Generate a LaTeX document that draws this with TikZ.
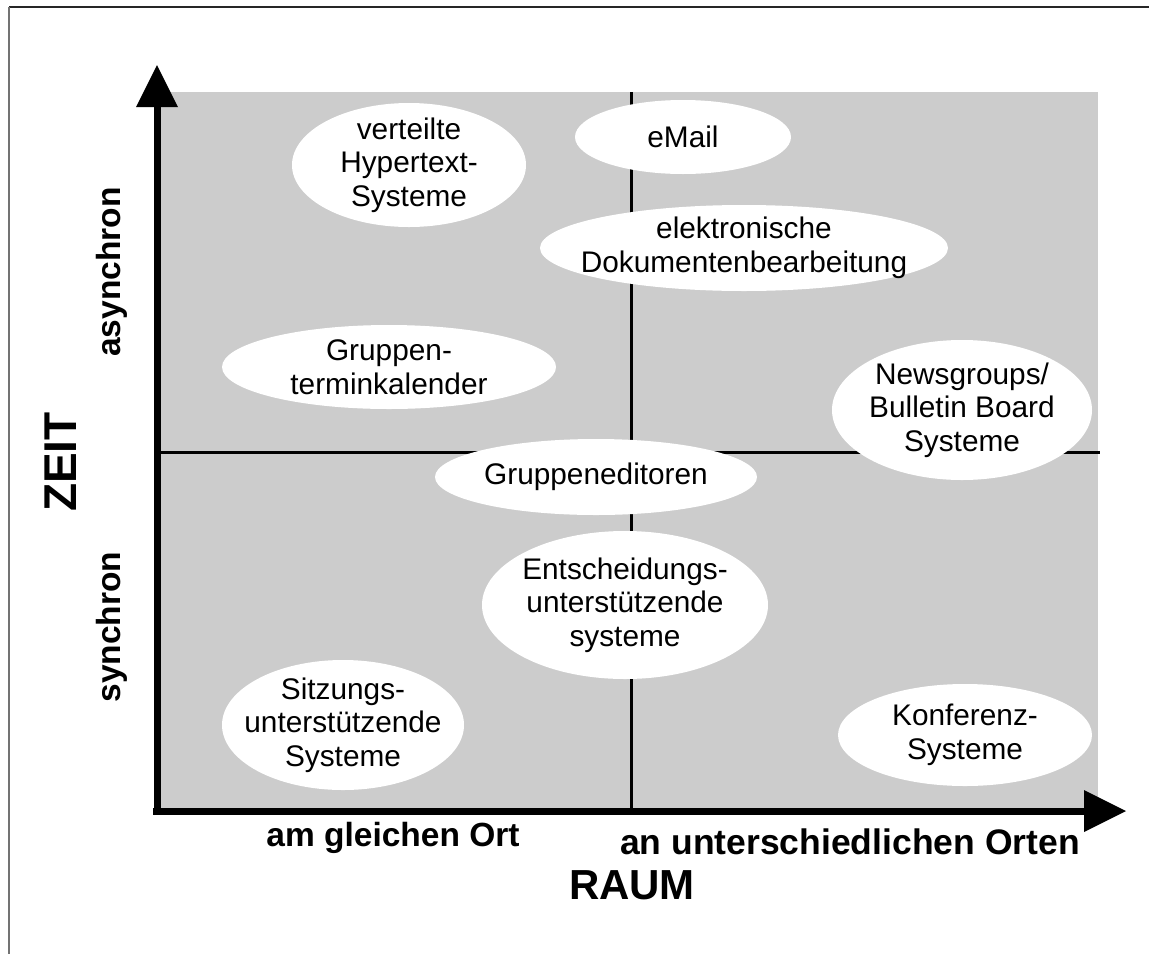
\documentclass[tikz,border=0pt]{standalone}
\usepackage{fontspec}
\setmainfont{Liberation Sans}
\begin{document}
\begin{tikzpicture}[x=1pt,y=-1pt,
  bub/.style={fill=white},
  lbl/.style={align=center,inner sep=0pt,font=\fontsize{29.8}{33.5}\selectfont},
  axlbl/.style={inner sep=0pt,font=\bfseries\fontsize{33.5}{38}\selectfont},
  bigl/.style={inner sep=0pt,font=\bfseries\fontsize{42}{48}\selectfont},
  midline/.style={line width=3pt,black},
  axline/.style={line width=7pt,black},
  tip/.style={fill=black}]
\useasboundingbox (0,0) rectangle (1149,954);
% frame
\draw[line width=2pt,black!85] (9,7) -- (1149,7);
\draw[line width=1.5pt,black!55] (9,7) -- (9,954);
% grey field
\fill[black!20] (157,92) rectangle (1098,812);
% mid lines
\coordinate (hl) at (157,452);
\coordinate (hr) at (1100,452);
\coordinate (vt) at (631,92);
\coordinate (vb) at (631,812);
\draw[midline] (hl) -- (hr);
\draw[midline] (vt) -- (vb);
% axes
\coordinate (o) at (157,815);
\coordinate (ytop) at (157,107);
\coordinate (ox) at (153,811);
\coordinate (xend) at (1084,811);
\draw[axline] (o) -- (ytop);
\draw[axline] (ox) -- (xend);
\fill[tip] (136,107) -- (178,107) -- (157,65) -- cycle;
\fill[tip] (1084,790) -- (1084,832) -- (1126,811) -- cycle;
% ellipses
\fill[bub] (409,165) ellipse [x radius=117pt, y radius=62pt];
\node[lbl] (hyper) at (409,165) {verteilte\\Hypertext-\\Systeme};
\fill[bub] (683,137) ellipse [x radius=108pt, y radius=37pt];
\node[lbl] (email) at (683,137) {eMail};
\fill[bub] (744,248) ellipse [x radius=204pt, y radius=43pt];
\node[lbl] (dok) at (744,248) {elektronische\\Dokumentenbearbeitung};
\fill[bub] (389,367) ellipse [x radius=167pt, y radius=42pt];
\node[lbl] (termin) at (389,367) {Gruppen-\\terminkalender};
\fill[bub] (962,410) ellipse [x radius=130pt, y radius=70pt];
\node[lbl] (news) at (962,410) {Newsgroups/\\Bulletin Board\\Systeme};
\fill[bub] (596,477) ellipse [x radius=161pt, y radius=38pt];
\node[lbl] (edit) at (596,477) {Gruppeneditoren};
\fill[bub] (625,605) ellipse [x radius=143pt, y radius=74pt];
\node[lbl] (entsch) at (625,605) {Entscheidungs-\\unterstützende\\systeme};
\fill[bub] (343,725) ellipse [x radius=121pt, y radius=65pt];
\node[lbl] (sitz) at (343,725) {Sitzungs-\\unterstützende\\Systeme};
\fill[bub] (965,735) ellipse [x radius=127pt, y radius=51pt];
\node[lbl] (konf) at (965,735) {Konferenz-\\Systeme};
% axis labels
\node[axlbl,rotate=90] (async) at (112,272) {asynchron};
\node[axlbl,rotate=90] (sync) at (112,627) {synchron};
\node[bigl,rotate=90,font=\bfseries\fontsize{46}{52}\selectfont] (zeit) at (61,462) {ZEIT};
\node[axlbl] (gleich) at (393,838) {am gleichen Ort};
\node[axlbl,font=\bfseries\fontsize{35.5}{40}\selectfont] (unter) at (850,842) {an unterschiedlichen Orten};
\node[bigl] (raum) at (632,885) {RAUM};
\end{tikzpicture}
\end{document}
